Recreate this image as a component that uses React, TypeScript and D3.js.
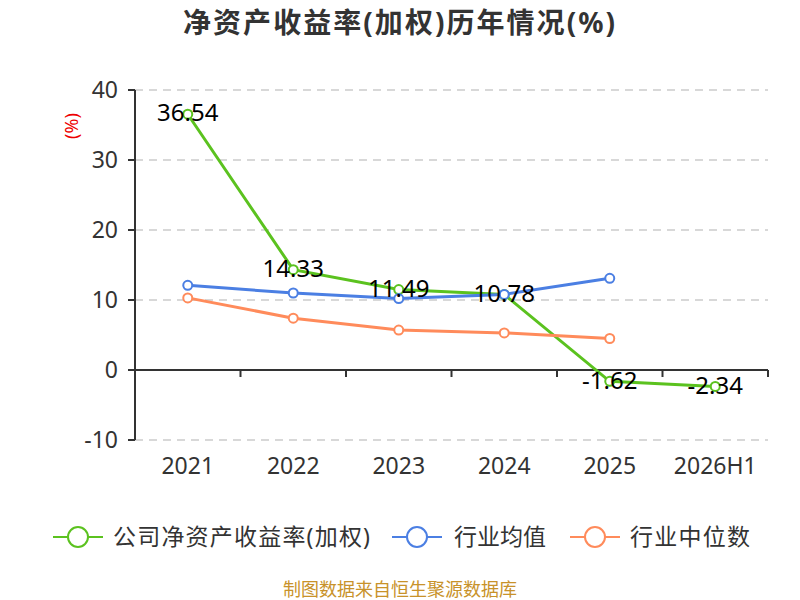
import React from 'react';
import * as d3 from 'd3';

const categories = ['2021', '2022', '2023', '2024', '2025', '2026H1'];
const companyRoe = [36.54, 14.33, 11.49, 10.78, -1.62, -2.34];
const industryAvg = [12.1, 11.0, 10.2, 10.8, 13.1];
const industryMedian = [10.3, 7.4, 5.7, 5.3, 4.5];
const yTicks = [-10, 0, 10, 20, 30, 40];

const seriesList = [
  { name: '公司净资产收益率(加权)', values: companyRoe, color: '#5bc21f' },
  { name: '行业均值', values: industryAvg, color: '#4b7fe3' },
  { name: '行业中位数', values: industryMedian, color: '#ff8b5b' },
];

const font = '"Noto Sans", "Noto Sans CJK SC", sans-serif';

export default function App() {
  const width = 800;
  const height = 600;
  const left = 135;
  const right = 768;
  const top = 90;
  const bottom = 440;

  const x = d3.scaleBand<string>().domain(categories).range([left, right]);
  const y = d3.scaleLinear().domain([-10, 40]).range([bottom, top]);
  const cx = (i: number) => (x(categories[i]) as number) + x.bandwidth() / 2;

  const line = d3.line<number>()
    .x((_, i) => cx(i))
    .y(d => y(d));

  // legend layout
  const legendItems = [
    { x: 53, textX: 113, textLen: 257 },
    { x: 392, textX: 454, textLen: 92 },
    { x: 570, textX: 630, textLen: 120 },
  ];

  return (
    <svg width={width} height={height}
      style={{ position: 'absolute', left: 0, top: 0, display: 'block', fontFamily: font }}>
      <text x={183} y={33} textLength={432} lengthAdjust="spacing" fontSize={28} fontWeight="bold" fill="#333">
        净资产收益率(加权)历年情况(%)
      </text>

      {/* grid */}
      {yTicks.filter(t => t !== 0).map(t => (
        <line key={t} x1={left} x2={right} y1={y(t)} y2={y(t)} stroke="#ccc" strokeDasharray="8,6" strokeWidth={1.5} />
      ))}

      {/* y axis */}
      <line x1={left} x2={left} y1={top} y2={bottom} stroke="#333" strokeWidth={2} />
      {yTicks.map(t => (
        <g key={t}>
          <line x1={left - 7} x2={left} y1={y(t)} y2={y(t)} stroke="#333" strokeWidth={2} />
          <text x={left - 17} y={y(t)} dy="0.36em" textAnchor="end" fontSize={23} fill="#333">{t}</text>
        </g>
      ))}
      <text transform={`translate(${72},${126}) rotate(-90)`} textAnchor="middle" dy="0.35em" fontSize={18} fill="#e00">
        (%)
      </text>

      {/* x axis at zero */}
      <line x1={left} x2={right} y1={y(0)} y2={y(0)} stroke="#333" strokeWidth={2} />
      {categories.slice(1).map(c => (
        <line key={c} x1={x(c) as number} x2={x(c) as number} y1={y(0)} y2={y(0) + 7} stroke="#333" strokeWidth={2} />
      ))}
      <line x1={right} x2={right} y1={y(0)} y2={y(0) + 7} stroke="#333" strokeWidth={2} />
      {categories.map((c, i) => (
        <text key={c} x={cx(i)} y={466} dy="0.35em" textAnchor="middle" fontSize={23} fill="#333">{c}</text>
      ))}

      {/* series */}
      {seriesList.map(s => (
        <g key={s.name}>
          <path d={line(s.values) || ''} fill="none" stroke={s.color} strokeWidth={3} />
          {s.values.map((v, i) => (
            <circle key={i} cx={cx(i)} cy={y(v)} r={4.5} fill="#fff" stroke={s.color} strokeWidth={2} />
          ))}
        </g>
      ))}
      {companyRoe.map((v, i) => (
        <text key={i} x={cx(i)} y={y(v)} dy="0.3em" textAnchor="middle" fontSize={24} fill="#000">
          {v.toFixed(2)}
        </text>
      ))}

      {/* legend */}
      {seriesList.map((s, i) => (
        <g key={s.name}>
          <line x1={legendItems[i].x} x2={legendItems[i].x + 50} y1={537} y2={537} stroke={s.color} strokeWidth={2} />
          <circle cx={legendItems[i].x + 25} cy={537} r={10} fill="#fff" stroke={s.color} strokeWidth={2} />
          <text x={legendItems[i].textX} y={537} dy="0.35em" fontSize={23} textLength={legendItems[i].textLen}
            lengthAdjust="spacing" fill="#333">{s.name}</text>
        </g>
      ))}

      <text x={283} y={596} textLength={234} lengthAdjust="spacing" fontSize={18} fill="#c8922a">制图数据来自恒生聚源数据库</text>
    </svg>
  );
}
